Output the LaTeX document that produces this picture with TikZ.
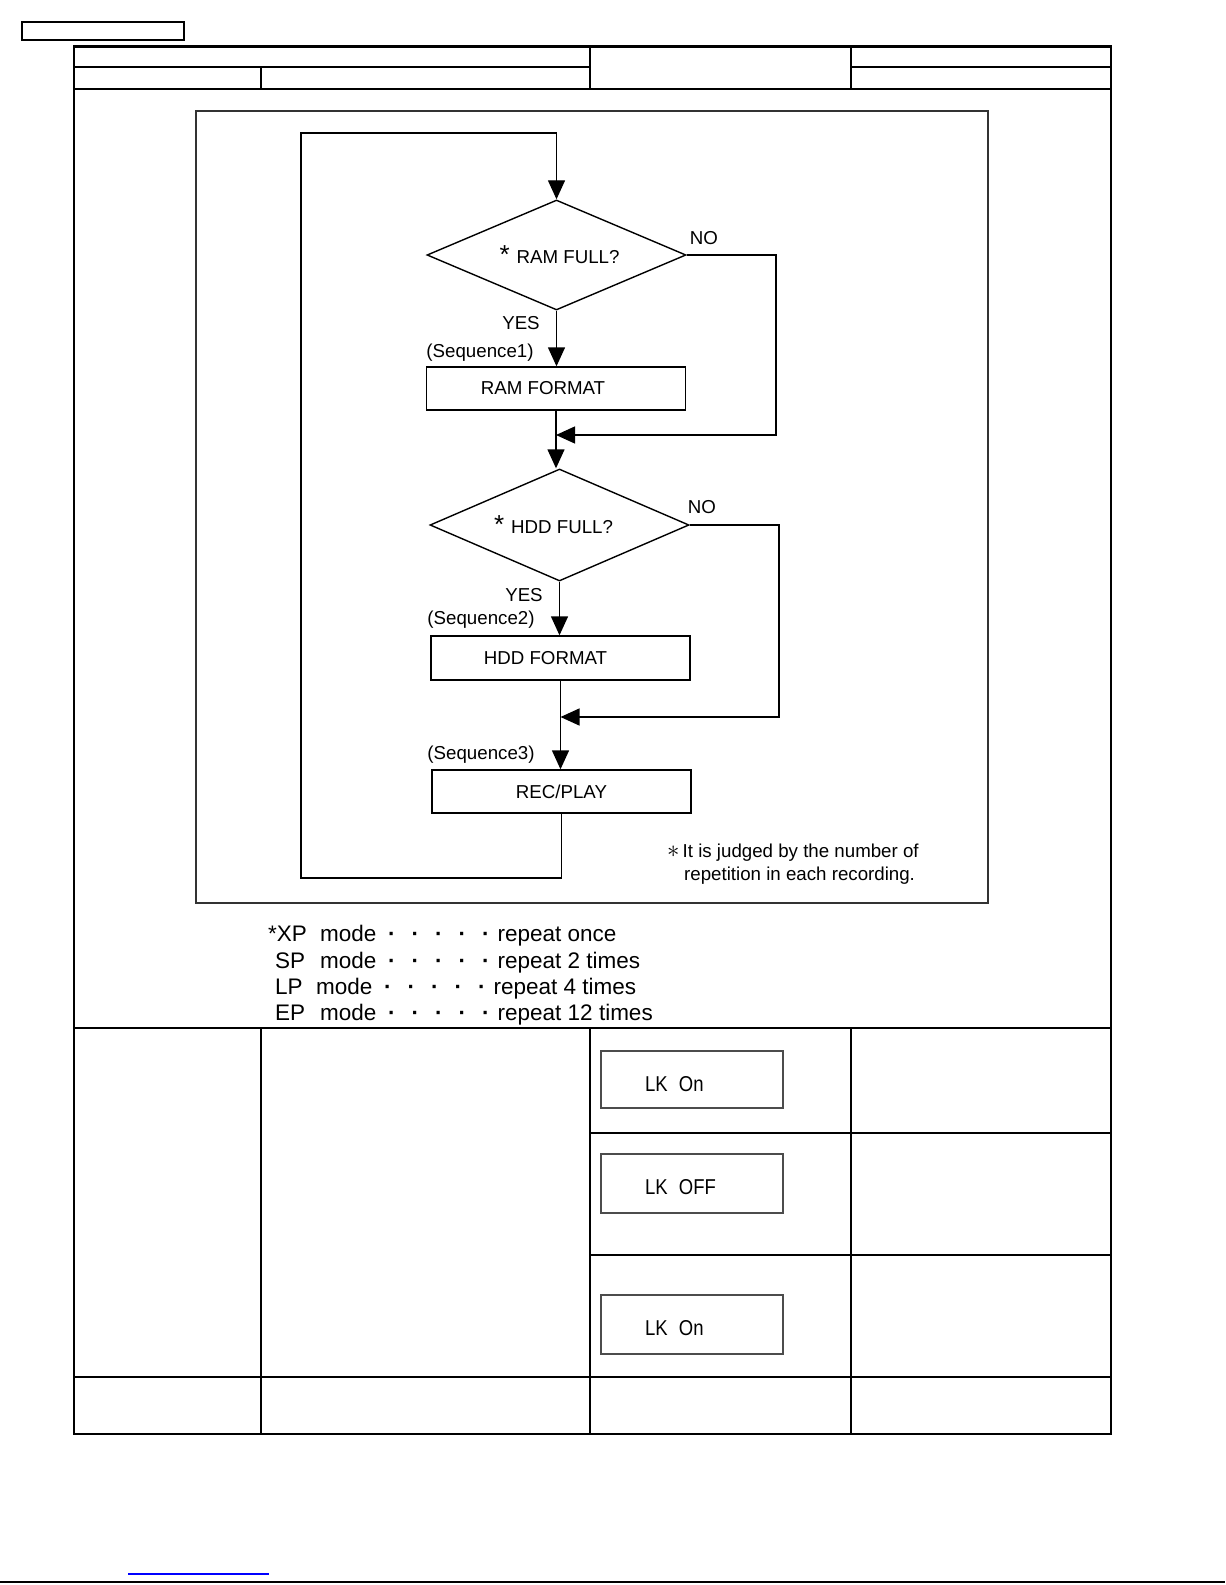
\documentclass[tikz,border=0pt]{standalone}
\usepackage{fontspec}
\setmainfont{Liberation Sans}
\usetikzlibrary{shapes.geometric,arrows.meta}
\newcommand{\fsz}{\fontsize{18.7bp}{22bp}\selectfont}
\newcommand{\msz}{\fontsize{22.5bp}{26bp}\selectfont}
\newcommand{\lcdsz}{\fontsize{21.5bp}{24bp}\selectfont}
\newcommand{\bigstar}{{\fontsize{26bp}{26bp}\selectfont *}\hspace{7bp}}
\newcommand{\lcdtxt}[1]{\scalebox{0.86}[1]{#1}}
\newcommand{\mdots}{\makebox[23.5bp]{\textbf{·}}\makebox[23.5bp]{\textbf{·}}\makebox[23.5bp]{\textbf{·}}\makebox[23.5bp]{\textbf{·}}\makebox[23.5bp]{\textbf{·}}}
\begin{document}
\begin{tikzpicture}[x=1bp,y=-1bp,
  tline/.style={line width=2.5bp,line cap=rect},
  fline/.style={line width=1.4bp},
  arr/.style={fline,-{Triangle[length=19bp,width=17bp]}},
  dec/.style={diamond,draw,fline,aspect=2.35,minimum width=259bp,minimum height=110bp,inner sep=0pt,font=\fsz},
  procbox/.style={rectangle,draw,fline,minimum width=259bp,minimum height=43bp,inner sep=0pt,font=\fsz},
  lbl/.style={inner sep=0pt,font=\fsz},
  notel/.style={inner sep=0pt,anchor=west,font=\fsz},
  lcdbox/.style={rectangle,draw=black!70,line width=1.2bp,minimum width=182bp,minimum height=58bp,inner sep=0pt},
  lcdtext/.style={inner sep=0pt,anchor=west,font=\lcdsz},
  modeln/.style={inner sep=0pt,anchor=base west,font=\msz}]
\useasboundingbox (0,0) rectangle (1225,1585);
\fill[white] (0,0) rectangle (1225,1585);

% top-left small box
\draw[line width=1.8bp] (22,22) rectangle (184,40);

% table frame
\draw[tline] (74,46.5) rectangle (1111,1434);
\draw[tline] (74,67) -- (590,67);
\draw[tline] (851,67) -- (1111,67);
\draw[tline] (74,89) -- (1111,89);
\draw[tline] (261,67) -- (261,89);
\draw[tline] (590,46.5) -- (590,89);
\draw[tline] (851,46.5) -- (851,89);
\draw[tline] (74,1028) -- (1111,1028);
\draw[tline] (261,1028) -- (261,1434);
\draw[tline] (590,1028) -- (590,1434);
\draw[tline] (851,1028) -- (851,1434);
\draw[tline] (590,1133) -- (1111,1133);
\draw[tline] (590,1255) -- (1111,1255);
\draw[tline] (74,1377) -- (1111,1377);

% flowchart frame
\draw[line width=2bp,black!80] (196,111) rectangle (988,903);

% flowchart nodes
\node[dec] (d1) at (556.5,255) {\hspace*{6bp}\bigstar RAM FULL?};
\node[procbox] (ram) at (556,388.5) {\hspace*{-26bp}RAM FORMAT};
\node[dec,minimum height=112bp] (d2) at (559.5,525) {\hspace*{-12bp}\bigstar HDD FULL?};
\node[procbox,minimum height=44bp] (hdd) at (560.5,658) {\hspace*{-30bp}HDD FORMAT};
\node[procbox] (rec) at (561.5,791.5) {REC/PLAY};

\node[lbl] (no1) at (704,238) {NO};
\node[lbl] (yes1) at (521,323) {YES};
\node[lbl] (seq1) at (480,353) {(Sequence1)};
\node[lbl] (no2) at (702,507) {NO};
\node[lbl] (yes2) at (524,595) {YES};
\node[lbl] (seq2) at (481,620) {(Sequence2)};
\node[lbl] (seq3) at (481,755) {(Sequence3)};

\node[notel] (note1) at (667,853) {{\fontsize{24bp}{24bp}\selectfont$\ast$}\,It is judged by the number of};
\node[notel] (note2) at (684,876) {repetition in each recording.};

\coordinate (lb) at (301,878);
\coordinate (lt) at (301,133);
\coordinate (n1) at (776,435);
\coordinate (n2) at (779,717);

% connectors
\draw[arr] (rec.south) -- (rec.south |- lb) -- (lb) -- (lt) -- (lt -| d1.north) -- (d1.north);
\draw[arr] (d1.south) -- (d1.south |- ram.north);
\draw[arr] (ram.south) -- (ram.south |- d2.north);
\draw[arr] (d1.east) -| (n1) -- (n1 -| ram.south);
\draw[arr] (d2.south) -- (d2.south |- hdd.north);
\draw[arr] (hdd.south) -- (hdd.south |- rec.north);
\draw[arr] (d2.east) -| (n2) -- (n2 -| hdd.south);

% mode lines
\node[modeln] (m1) at (268,941) {\makebox[52bp][l]{*XP}\makebox[60bp][l]{mode}\mdots repeat once};
\node[modeln] (m2) at (275,968) {\makebox[45bp][l]{SP}\makebox[60bp][l]{mode}\mdots repeat 2 times};
\node[modeln] (m3) at (275,994) {\makebox[41bp][l]{LP}\makebox[60bp][l]{mode}\mdots repeat 4 times};
\node[modeln] (m4) at (275,1020.5) {\makebox[45bp][l]{EP}\makebox[60bp][l]{mode}\mdots repeat 12 times};

% LCD boxes
\node[lcdbox,minimum height=57bp] (lk1) at (692,1079.5) {};
\node[lcdtext] (lk1t) at (645,1084) {\lcdtxt{LK\hspace{7bp} On}};
\node[lcdbox,minimum height=59bp] (lk2) at (692,1183.5) {};
\node[lcdtext] (lk2t) at (645,1187) {\lcdtxt{LK\hspace{7bp} OFF}};
\node[lcdbox,minimum height=59bp] (lk3) at (692,1324.5) {};
\node[lcdtext] (lk3t) at (645,1328) {\lcdtxt{LK\hspace{7bp} On}};

% page bottom
\draw[line width=1.5bp,blue] (128,1574) -- (269,1574);
\draw[line width=2bp] (0,1582) -- (1225,1582);
\end{tikzpicture}
\end{document}
